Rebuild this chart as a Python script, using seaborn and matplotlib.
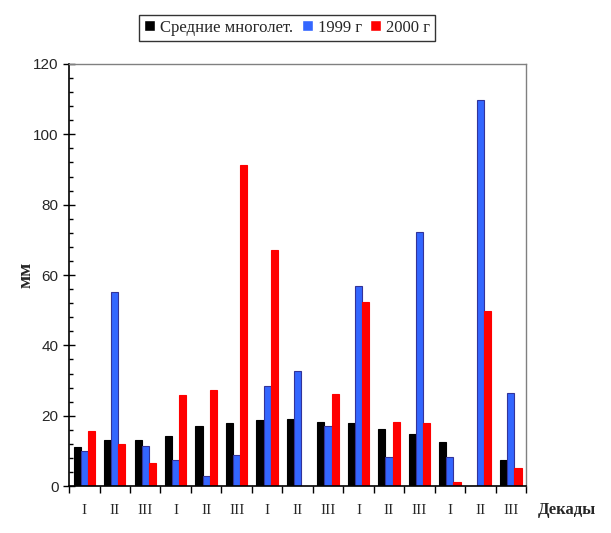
import pandas as pd
import matplotlib.pyplot as plt
import seaborn as sns
from matplotlib.ticker import MultipleLocator, FixedLocator

# data
decades = ["I", "II", "III", "I", "II", "III", "I", "II", "III",
           "I", "II", "III", "I", "II", "III"]
series_names = ["Средние многолет.", "1999 г", "2000 г"]
mean_years = [11.1, 13.1, 13.1, 14.3, 17.1, 18.0, 18.8, 19.1, 18.2,
              17.9, 16.2, 14.8, 12.5, 0.0, 7.4]
year_1999 = [10.1, 55.1, 11.4, 7.5, 2.8, 8.7, 28.5, 32.7, 17.1,
             56.9, 8.2, 72.2, 8.4, 109.7, 26.6]
year_2000 = [15.7, 12.0, 6.6, 26.0, 27.4, 91.3, 67.1, 0.0, 26.2,
             52.3, 18.2, 17.9, 1.1, 49.8, 5.1]

colours = ["#000000", "#3366FF", "#FF0000"]
edges = ["#000000", "#333399", "#FF0000"]

rows = []
for i in range(len(decades)):
    for name, vals in zip(series_names, [mean_years, year_1999, year_2000]):
        rows.append({"pos": i, "series": name, "value": vals[i]})
df = pd.DataFrame(rows)

sns.set_style("white")
plt.rcParams["font.family"] = ["Liberation Serif", "DejaVu Serif"]

fig = plt.figure(figsize=(6.11, 5.33), dpi=100)
ax = fig.add_axes([0.113, 0.088, 0.748, 0.792])

sns.barplot(data=df, x="pos", y="value", hue="series", hue_order=series_names,
            palette=colours, width=0.7, saturation=1, ax=ax, legend=True)

# edge colours per series
for cont, ec in zip(ax.containers, edges):
    for bar in cont:
        bar.set_edgecolor(ec)
        bar.set_linewidth(0.8)

ax.set_xlim(-0.5, len(decades) - 0.5)
ax.set_ylim(0, 120)

# x: ticks on category boundaries, labels at centres
ax.xaxis.set_major_locator(FixedLocator([i - 0.5 for i in range(len(decades) + 1)]))
ax.xaxis.set_minor_locator(FixedLocator(list(range(len(decades)))))
ax.set_xticklabels([])
ax.set_xticklabels(decades, minor=True, fontsize=11)
ax.tick_params(axis="x", which="major", direction="out", length=5, width=1, color="black", bottom=True)
ax.tick_params(axis="x", which="minor", length=0, pad=13, bottom=True)

ax.yaxis.set_major_locator(MultipleLocator(20))
ax.yaxis.set_minor_locator(MultipleLocator(4))
ax.tick_params(axis="y", which="major", direction="inout", length=8, width=1, color="black", left=True)
ax.tick_params(axis="y", which="minor", direction="in", length=3, width=1, color="black", left=True)
for lbl in ax.get_yticklabels():
    lbl.set_fontfamily(["Liberation Sans", "DejaVu Sans"])
    lbl.set_fontsize(11)

for side in ["left", "bottom"]:
    ax.spines[side].set_color("black")
    ax.spines[side].set_linewidth(1.2)
for side in ["top", "right"]:
    ax.spines[side].set_visible(True)
    ax.spines[side].set_color("#808080")
    ax.spines[side].set_linewidth(1)

ax.set_xlabel("")
ax.set_ylabel("мм", fontsize=14, fontweight="bold")
ax.yaxis.set_label_coords(-0.075, 0.5)
fig.text(0.975, 0.043, "Декады", fontsize=12, fontweight="bold", ha="right", va="center")

ax.legend_.remove()
leg = fig.legend(*ax.get_legend_handles_labels(), loc="center", bbox_to_anchor=(0.47, 0.948),
                 ncol=3, frameon=True, fancybox=False, fontsize=12, handlelength=0.65,
                 handleheight=0.65, handletextpad=0.3, columnspacing=0.5, borderpad=0.3,
                 borderaxespad=0.2)
leg.get_frame().set_edgecolor("black")
leg.get_frame().set_linewidth(1)

fig.savefig("out.png", dpi=100)
